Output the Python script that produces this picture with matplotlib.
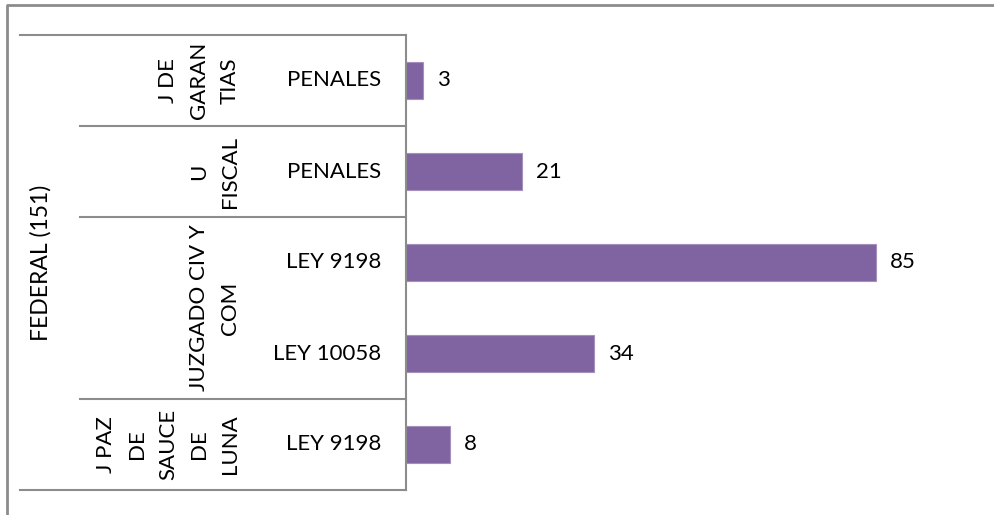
import matplotlib
matplotlib.use("Agg")
import matplotlib.pyplot as plt
from matplotlib.lines import Line2D
import matplotlib.transforms as mtransforms

# data
leaf_labels = ["PENALES", "PENALES", "LEY 9198", "LEY 10058", "LEY 9198"]
values = [3, 21, 85, 34, 8]
group_labels = ["J DE\nGARAN\nTIAS", "U\nFISCAL", "JUZGADO CIV Y\nCOM", "J PAZ\nDE\nSAUCE\nDE\nLUNA"]
group_sizes = [1, 1, 2, 1]
top_label = "FEDERAL (151)"

plt.rcParams['font.family'] = ['Lato', 'DejaVu Sans']
W, H = 994, 515
bar_col = '#8064A2'
line_col = '#8c8c8c'
fs = 16

fig = plt.figure(figsize=(W / 100, H / 100), dpi=100)

def fx(px):
    return px / W

def fy(py):
    return 1 - py / H

ax = fig.add_axes([fx(406), fy(490), fx(959) - fx(406), fy(35) - fy(490)])
ypos = list(range(len(values)))
ax.barh(ypos, values, height=0.4, color=bar_col, edgecolor='#a390bd', linewidth=0.8)
ax.set_xlim(0, 100)
ax.set_ylim(len(values) - 0.5, -0.5)
for s in ['top', 'right', 'bottom']:
    ax.spines[s].set_visible(False)
ax.spines['left'].set_color(line_col)
ax.spines['left'].set_linewidth(1.5)
ax.set_xticks([])
ax.set_yticks([])

for y, v in zip(ypos, values):
    ax.annotate(str(v), (v, y), xytext=(14, 0), textcoords='offset pixels',
                ha='left', va='center', fontsize=fs)

# multi-level category axis
tr = mtransforms.blended_transform_factory(fig.transFigure, ax.transData)
for y, lab in zip(ypos, leaf_labels):
    fig.text(fx(381), y, lab, transform=tr, ha='right', va='center', fontsize=fs)

start = 0
bounds = [-0.5]
for lab, n in zip(group_labels, group_sizes):
    mid = start + (n - 1) / 2
    fig.text(fx(240), mid, lab, transform=tr, rotation=90, ha='right', va='center',
             multialignment='center', fontsize=fs, linespacing=1.68)
    start += n
    bounds.append(start - 0.5)

fig.text(fx(41), (len(values) - 1) / 2, top_label, transform=tr, rotation=90,
         ha='center', va='center', fontsize=fs + 0.5)

for i, b in enumerate(bounds):
    x0 = fx(20) if i in (0, len(bounds) - 1) else fx(80)
    fig.add_artist(Line2D([x0, fx(406)], [b, b], transform=tr, color=line_col, lw=1.5))

# outer chart border (top and left visible)
fig.add_artist(Line2D([fx(7), fx(7), 1.0], [0.0, fy(5), fy(5)], color=line_col, lw=2))

fig.savefig('out.png', dpi=100)
